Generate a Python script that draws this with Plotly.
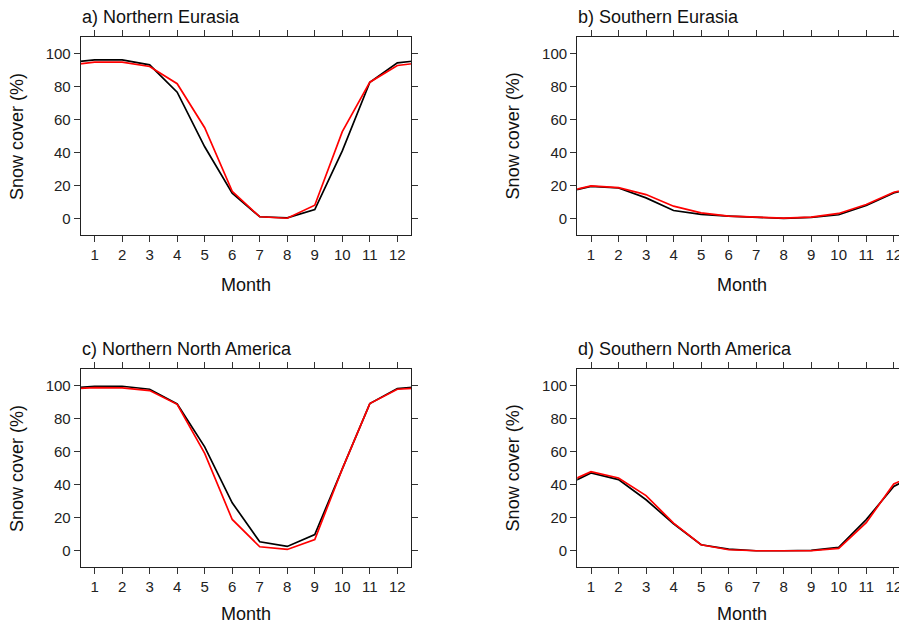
import plotly.graph_objects as go

months = list(range(1, 13))
month_labels = [str(m) for m in months]
y_ticks = [0, 20, 40, 60, 80, 100]

titles = ["a) Northern Eurasia", "b) Southern Eurasia",
          "c) Northern North America", "d) Southern North America"]

# black series (observations) and red series (model), monthly snow cover (%)
a_black = [96, 96, 93, 76.5, 43.5, 15.5, 1.2, 0.5, 5.5, 41, 82.5, 94.2]
a_red = [94.6, 94.6, 92, 81.6, 55, 16.6, 1.2, 0.3, 8.2, 52.6, 82.5, 92.6]
b_black = [19.6, 18.6, 12.6, 5.0, 2.6, 1.6, 1.0, 0.2, 0.8, 2.4, 8.0, 15.6]
b_red = [19.8, 18.8, 14.6, 7.6, 3.6, 1.6, 1.0, 0.4, 1.0, 3.2, 8.6, 16.0]
c_black = [99.4, 99.4, 97.6, 88.7, 62.8, 29.0, 5.4, 2.6, 9.8, 49.5, 88.9, 98.0]
c_red = [98.6, 98.4, 96.8, 88.5, 58.8, 18.9, 2.4, 0.8, 6.8, 49.5, 88.9, 97.6]
d_black = [47, 43, 30.8, 16.3, 3.6, 1.0, 0.0, 0.0, 0.2, 2.0, 18.8, 38.9]
d_red = [47.8, 44, 33.3, 16.7, 3.6, 0.6, 0.0, 0.0, 0.0, 1.4, 17.0, 40.3]

series = [(a_black, a_red), (b_black, b_red), (c_black, c_red), (d_black, d_red)]

W, H = 907, 624
OFF = 8  # page body margin
# page-pixel geometry of plot boxes
left_x = (81, 412)
right_x = (578.5, 909.5)
top_y = (36.7, 235.3)
bot_y = (368.7, 567.3)
boxes = [(left_x, top_y), (right_x, top_y), (left_x, bot_y), (right_x, bot_y)]
month_gap = [49.5, 49.5, 47.0, 47.0]

def px(v):
    return (v - OFF) / W

def py(v):
    return 1 - (v - OFF) / H

FONT = "Liberation Sans, Arial, Helvetica, sans-serif"
fig = go.Figure()

def cyc(v):
    return [v[-1]] + list(v) + [v[0]]

x_ext = [0] + months + [13]

for i, ((bx, by), (blk, red)) in enumerate(zip(boxes, series)):
    n = i + 1
    xa = "x" if n == 1 else f"x{n}"
    ya = "y" if n == 1 else f"y{n}"
    fig.add_trace(go.Scatter(x=x_ext, y=cyc(blk), mode="lines",
                             line=dict(color="black", width=1.7),
                             xaxis=xa, yaxis=ya, showlegend=False))
    fig.add_trace(go.Scatter(x=x_ext, y=cyc(red), mode="lines",
                             line=dict(color="#ff0000", width=1.7),
                             xaxis=xa, yaxis=ya, showlegend=False))
    xdom = [px(bx[0]), px(bx[1])]
    ydom = [py(by[1]), py(by[0])]
    xkey = "xaxis" if n == 1 else f"xaxis{n}"
    ykey = "yaxis" if n == 1 else f"yaxis{n}"
    fig.update_layout(**{
        xkey: dict(domain=xdom, range=[0.5, 12.5], anchor=ya,
                   tickmode="array", tickvals=months, ticktext=month_labels,
                   ticks="outside", ticklen=6, tickwidth=1, tickcolor="#333",
                   showline=True, linecolor="#222", linewidth=1.3,
                   mirror="ticks", showgrid=False, zeroline=False,
                   tickfont=dict(family=FONT, size=15, color="#222")),
        ykey: dict(domain=ydom, range=[-10, 110], anchor=xa,
                   tickmode="array", tickvals=y_ticks,
                   ticks="outside", ticklen=6, tickwidth=1, tickcolor="#333",
                   showline=True, linecolor="#222", linewidth=1.3,
                   mirror="ticks", showgrid=False, zeroline=False,
                   tickfont=dict(family=FONT, size=15, color="#222")),
    })
    # panel title
    fig.add_annotation(text=titles[i], xref="paper", yref="paper",
                       x=px(bx[0] - 1), y=py(by[0] - 20),
                       xanchor="left", yanchor="middle", showarrow=False,
                       font=dict(family=FONT, size=18, color="#111"))
    # x axis title
    fig.add_annotation(text="Month", xref="paper", yref="paper",
                       x=px((bx[0] + bx[1]) / 2), y=py(by[1] + month_gap[i]),
                       xanchor="center", yanchor="middle", showarrow=False,
                       font=dict(family=FONT, size=18, color="#111"))
    # y axis title
    fig.add_annotation(text="Snow cover (%)", xref="paper", yref="paper",
                       x=px(bx[0] - 64), y=py((by[0] + by[1]) / 2),
                       xanchor="center", yanchor="middle", showarrow=False,
                       textangle=-90,
                       font=dict(family=FONT, size=18, color="#111"))

fig.update_layout(width=W, height=H, margin=dict(l=0, r=0, t=0, b=0),
                  paper_bgcolor="white", plot_bgcolor="white",
                  showlegend=False)

fig.write_html("out.html")
